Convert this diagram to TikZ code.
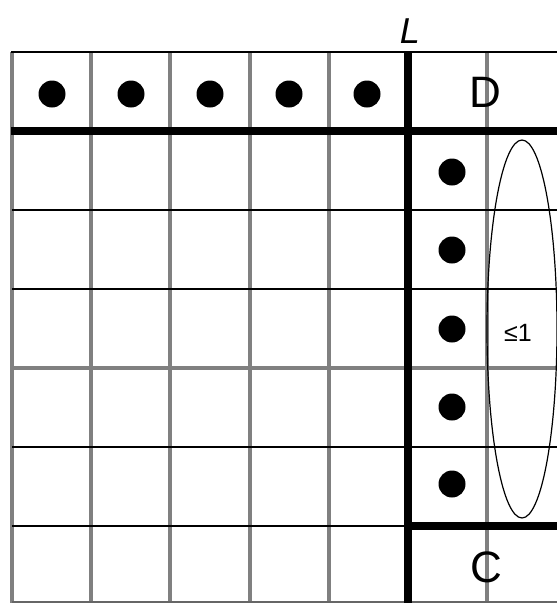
\documentclass[tikz,border=0pt]{standalone}
\usepackage{fontspec}
\setmainfont{Liberation Sans}
\begin{document}
\begin{tikzpicture}[x=1pt,y=-1pt,
  grayline/.style={draw=black!50,line width=3.5pt},
  thinline/.style={draw=black,line width=2.2pt},
  thickline/.style={draw=black,line width=8pt},
  token/.style={circle,fill=black,inner sep=0pt,minimum size=27pt},
  lbl/.style={inner sep=0pt,font=\fontsize{44}{44}\selectfont}]
\useasboundingbox (0,0) rectangle (557,603);
% gray vertical lines
\foreach \x in {12,91,170,250,329,487}
  \draw[grayline] (\x,52) -- (\x,603);
% horizontal lines
\draw[thinline] (11,52) -- (557,52);
\draw[thinline] (12,210) -- (557,210);
\draw[thinline] (12,289) -- (557,289);
\draw[grayline] (12,368) -- (557,368);
\draw[thinline] (12,447) -- (557,447);
\draw[thinline] (12,526) -- (408,526);
\draw[draw=black!60,line width=2pt] (12,602) -- (557,602);
% thick lines
\draw[thickline] (11,131) -- (557,131);
\draw[thickline] (408,526) -- (557,526);
\draw[thickline] (408,51) -- (408,603);
% tokens
\foreach \x/\n in {52/a,131/b,210/c,289/d,367/e}
  \node[token] (t\n) at (\x,94) {};
\foreach \y/\n in {172/a,250/b,329/c,407/d,484/e}
  \node[token] (r\n) at (452,\y) {};
% ellipse
\draw[line width=1.2pt] (522,329) ellipse [x radius=35, y radius=189];
% labels
\node[inner sep=0pt,font=\fontsize{36}{36}\selectfont\itshape] (L) at (410,31) {L};
\node[lbl] (D) at (485,92) {D};
\node[lbl] (C) at (486,567) {C};
\node[inner sep=0pt,font=\fontsize{25}{25}\selectfont] (le) at (518,333) {≤1};
\end{tikzpicture}
\end{document}
